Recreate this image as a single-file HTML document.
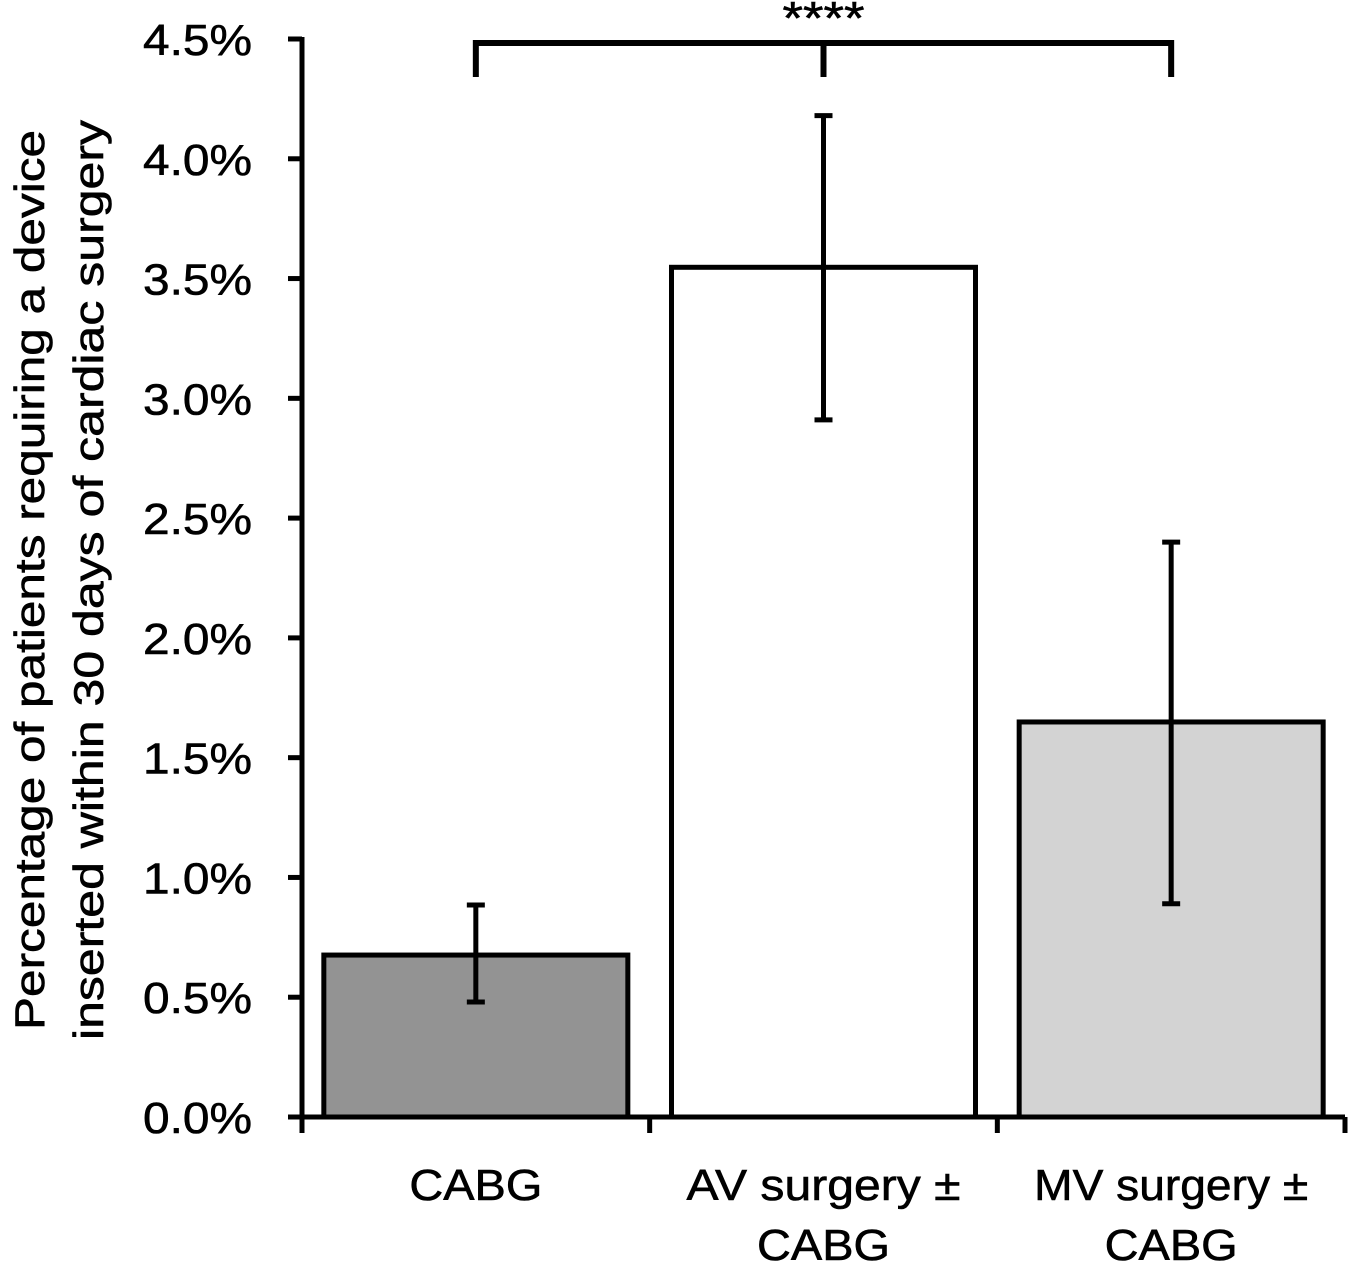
<!DOCTYPE html>
<html><head><meta charset="utf-8"><style>
body{margin:0;background:#fff;}
svg{display:block;font-family:"Liberation Sans",Arial,sans-serif;}
text{stroke:#000;stroke-width:0.6px;}
</style></head><body>
<svg id="chart" width="1350" height="1267"></svg>
<script>
const categories=[["CABG"],["AV surgery ±","CABG"],["MV surgery ±","CABG"]];
const values=[0.676,3.547,1.649];
const errLow=[0.48,2.91,0.89];
const errHigh=[0.885,4.18,2.40];
const fills=["#939393","#ffffff","#d3d3d3"];
const ticks=[0,0.5,1,1.5,2,2.5,3,3.5,4,4.5];
const tickLabels=["0.0%","0.5%","1.0%","1.5%","2.0%","2.5%","3.0%","3.5%","4.0%","4.5%"];
const NS="http://www.w3.org/2000/svg";
const svg=document.getElementById('chart');
const x0=302,x1=1345,y0=1117,yTop=39;
const y=v=>y0-(v/4.5)*(y0-yTop);
const band=(x1-x0)/3;
const cx=i=>x0+band*(i+0.5);
function el(t,a){const e=document.createElementNS(NS,t);for(const k in a)e.setAttribute(k,a[k]);svg.appendChild(e);return e;}
values.forEach((v,i)=>{
 const b=el('rect',{x:cx(i)-152,y:y(v),width:304,height:y0-y(v),fill:fills[i],stroke:'#000','stroke-width':5});
 
 
 const g=el('path',{d:`M${cx(i)} ${y(errHigh[i])}V${y(errLow[i])}M${cx(i)-9} ${y(errHigh[i])}H${cx(i)+9}M${cx(i)-9} ${y(errLow[i])}H${cx(i)+9}`,stroke:'#000','stroke-width':5,fill:'none'});
 
 
 categories[i].forEach((ln,j)=>{
  const w=ln==='CABG'?133:274;
  const t=el('text',{x:cx(i),y:1200+j*60,'text-anchor':'middle','font-size':44,textLength:w,lengthAdjust:'spacingAndGlyphs'});
  t.textContent=ln;
  
  
 });
});
const ax=el('path',{d:`M${x0} ${yTop-2}V${y0}H${x1}`,stroke:'#000','stroke-width':5,fill:'none'});


for(let i=0;i<=3;i++){
 const xt=x0+band*i;
 const tk=el('line',{x1:xt,x2:xt,y1:y0,y2:y0+16,stroke:'#000','stroke-width':5});
 
 
}
ticks.forEach((v,i)=>{
 const tk=el('line',{x1:x0-14,x2:x0,y1:y(v),y2:y(v),stroke:'#000','stroke-width':5});
 
 
 const t=el('text',{x:252,y:y(v)+16,'text-anchor':'end','font-size':44,textLength:109,lengthAdjust:'spacingAndGlyphs'});
 t.textContent=tickLabels[i];
 
 
});
const br=el('path',{d:`M${cx(0)} 77V43H${cx(2)}V77M${cx(1)} 43V77`,stroke:'#000','stroke-width':6,fill:'none'});


const st=el('text',{x:cx(1),y:34,'text-anchor':'middle','font-size':46,textLength:82,lengthAdjust:'spacingAndGlyphs'});
st.textContent='****';


[["Percentage of patients requiring a device",900],["inserted within 30 days of cardiac surgery",920]].forEach((ln,j)=>{
 const t=el('text',{x:0,y:0,'text-anchor':'middle','font-size':42,textLength:ln[1],lengthAdjust:'spacingAndGlyphs',transform:`translate(${44+j*59},580) rotate(-90)`});
 t.textContent=ln[0];
 
 
});
</script>
</body></html>
